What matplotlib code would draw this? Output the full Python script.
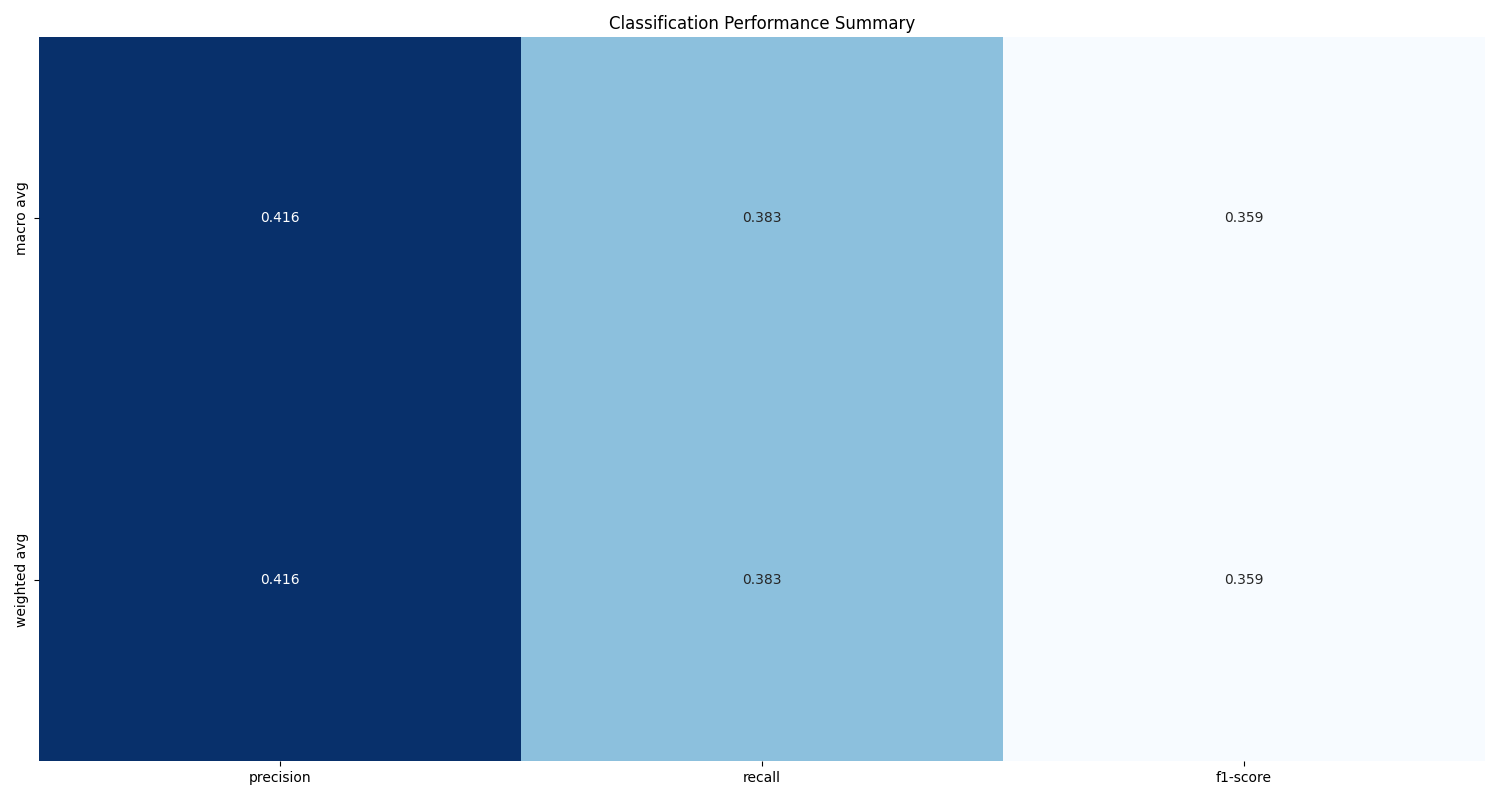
import matplotlib
matplotlib.use("Agg")
import matplotlib.pyplot as plt
import seaborn as sns
import pandas as pd

rows = ["macro avg", "weighted avg"]
cols = ["precision", "recall", "f1-score"]
macro_vals = [0.416, 0.383, 0.359]
weighted_vals = [0.416, 0.383, 0.359]

df = pd.DataFrame([macro_vals, weighted_vals], index=rows, columns=cols)

fig, ax = plt.subplots(figsize=(15, 8), dpi=100)
sns.heatmap(df, annot=True, fmt=".3f", cmap="Blues", cbar=False, ax=ax)
ax.set_title("Classification Performance Summary")
plt.tight_layout()
plt.savefig("out.png")
